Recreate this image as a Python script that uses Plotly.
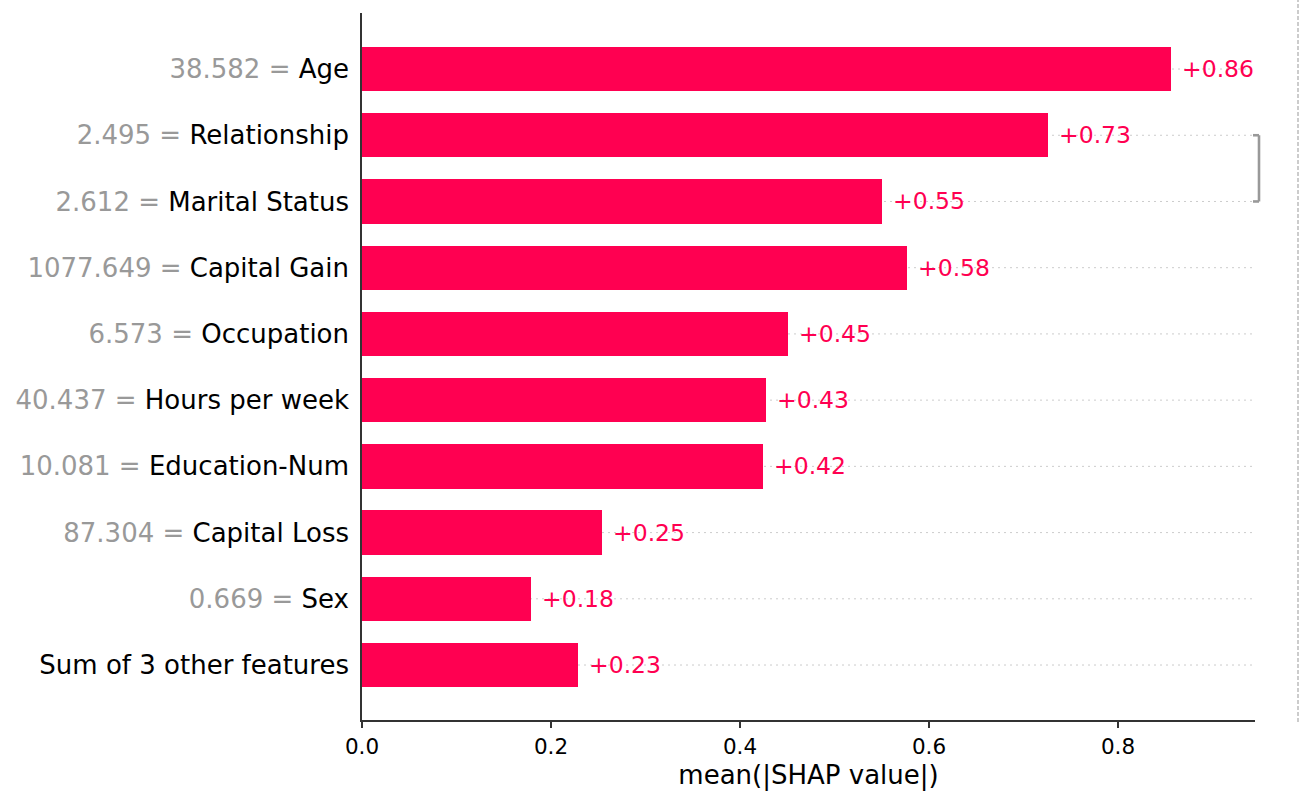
import plotly.graph_objects as go

features = ["Age", "Relationship", "Marital Status", "Capital Gain", "Occupation",
            "Hours per week", "Education-Num", "Capital Loss", "Sex", "Sum of 3 other features"]
feature_values = ["38.582", "2.495", "2.612", "1077.649", "6.573",
                  "40.437", "10.081", "87.304", "0.669", ""]
mean_abs_shap = [0.856, 0.726, 0.550, 0.577, 0.451, 0.4275, 0.424, 0.254, 0.179, 0.2286]
x_ticks = [0.0, 0.2, 0.4, 0.6, 0.8]

RED = "#ff0051"
FONT = "DejaVu Sans"

n = len(features)
ypos = list(range(n))
y_lo, y_hi = -0.846, n - 1 + 0.83  # displayed range (reversed)
x_max = 0.945

ticktext = []
for f, v in zip(features, feature_values):
    if v:
        ticktext.append(f'<span style="color:#999999">{v} = </span><span style="color:#000000">{f}</span>')
    else:
        ticktext.append(f'<span style="color:#000000">{f}</span>')

fig = go.Figure()
fig.add_trace(go.Bar(
    x=mean_abs_shap, y=ypos, orientation="h", width=0.67,
    marker=dict(color=RED, line=dict(width=0)),
    hoverinfo="skip",
))

shapes = []
# dotted row guide lines (behind bars)
for y in ypos:
    shapes.append(dict(type="line", xref="x", yref="y", x0=0, x1=x_max - 0.003, y0=y, y1=y,
                       line=dict(color="#cccccc", width=1, dash="2px,4px"), layer="below"))

def ypaper(y):
    return (y_hi - y) / (y_hi - y_lo)

L, R = 362, 1255
def xpaper(px):
    return (px - L) / (R - L)

# cluster bracket between rows 1 and 2
bx = xpaper(1259)
shapes.append(dict(type="line", xref="paper", yref="paper", x0=bx, x1=bx, y0=ypaper(1), y1=ypaper(2),
                   line=dict(color="#999999", width=2.6)))
for yy in (1, 2):
    shapes.append(dict(type="line", xref="paper", yref="paper", x0=xpaper(1253), x1=bx, y0=ypaper(yy), y1=ypaper(yy),
                       line=dict(color="#999999", width=2.6)))
# cutoff dashed line
shapes.append(dict(type="line", xref="paper", yref="paper", x0=xpaper(1298), x1=xpaper(1298), y0=-0.003, y1=1.02,
                   line=dict(color="#cccccc", width=2, dash="4px,2px")))

annotations = []
for y, v in zip(ypos, mean_abs_shap):
    annotations.append(dict(x=v, y=y, xref="x", yref="y", text=f"+{v:.2f}", showarrow=False,
                            xanchor="left", yanchor="middle", xshift=9,
                            font=dict(color=RED, size=23.5, family=FONT)))

fig.update_layout(
    width=1311, height=804,
    margin=dict(l=362, r=56, t=13, b=84),
    paper_bgcolor="white", plot_bgcolor="white",
    showlegend=False,
    shapes=shapes, annotations=annotations,
    font=dict(family=FONT, color="black"),
    bargap=0,
)
fig.update_xaxes(
    range=[0, x_max], tickvals=x_ticks, ticktext=[f"{t:.1f}" for t in x_ticks],
    showgrid=False, zeroline=False, showline=True, linecolor="#333333", linewidth=1.6,
    ticks="outside", ticklen=6, tickwidth=1.6, tickcolor="#333333",
    tickfont=dict(size=21.5, family=FONT, color="black"),
    title=dict(text="mean(|SHAP value|)", font=dict(size=26, family=FONT, color="black"), standoff=8),
    automargin=False,
)
fig.update_yaxes(
    range=[y_hi, y_lo], tickvals=ypos, ticktext=ticktext,
    showgrid=False, zeroline=False, showline=True, linecolor="#333333", linewidth=1.6,
    ticks="", ticklabelstandoff=6,
    tickfont=dict(size=26, family=FONT),
    automargin=False,
)

fig.write_html("out.html")
